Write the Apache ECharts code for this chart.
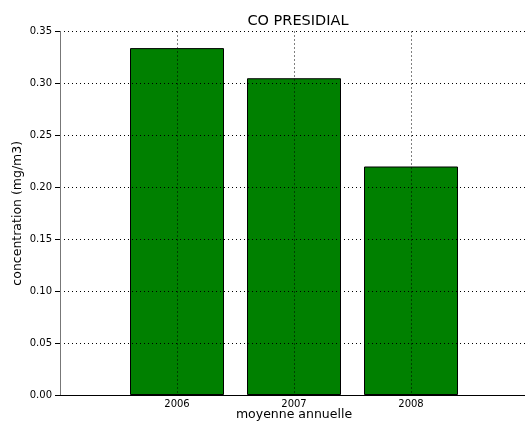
<!DOCTYPE html>
<html>
<head>
<meta charset="utf-8">
<script src="https://cdn.jsdelivr.net/npm/echarts@6/dist/echarts.min.js"></script>
<style>
  html, body { margin: 0; padding: 0; background: #fff; }
  #chart { width: 525px; height: 424px; }
</style>
</head>
<body>
<div id="chart"></div>
<script>
// Annual mean CO concentration per year
const years = [2006, 2007, 2008];
const concentrations = [0.334, 0.305, 0.220];
const yMin = 0, yMax = 0.35, yStep = 0.05;
const xMin = 2005, xMax = 2009;

const font = 'DejaVu Sans';
const chart = echarts.init(document.getElementById('chart'));

const dotted = { color: '#000', width: 1, type: [1, 3] };

chart.setOption({
  animation: false,
  backgroundColor: '#fff',
  title: {
    text: 'CO PRESIDIAL',
    left: 293, top: 9, textAlign: 'center',
    textStyle: { fontFamily: font, fontSize: 14.5, fontWeight: 'normal', color: '#000' }
  },
  grid: { left: 60, top: 31.5, width: 468, height: 363.5, outerBoundsMode: 'none', containLabel: false },
  xAxis: [{
    type: 'value', min: xMin, max: xMax, interval: 1, z: 5,
    name: 'moyenne annuelle', nameLocation: 'middle', nameGap: 13, nameMoveOverlap: false,
    nameTextStyle: { fontFamily: font, fontSize: 12.5, color: '#000' },
    axisLine: { show: true, onZero: false, lineStyle: { color: '#000', width: 1 } },
    axisTick: { show: false },
    axisLabel: {
      fontFamily: font, fontSize: 10, color: '#000', margin: 4,
      formatter: v => (years.indexOf(v) >= 0 ? String(v) : '')
    },
    splitLine: { show: true, lineStyle: dotted }
  }, {
    type: 'value', position: 'top', min: xMin, max: xMax, interval: 1,
    axisLine: { show: true, lineStyle: { color: '#000', width: 1 } },
    axisTick: { show: false }, axisLabel: { show: false }, splitLine: { show: false }
  }],
  yAxis: {
    type: 'value', min: yMin, max: yMax, interval: yStep, z: 5,
    name: 'concentration (mg/m3)', nameLocation: 'middle', nameGap: 36, nameMoveOverlap: false,
    nameTextStyle: { fontFamily: font, fontSize: 12.5, color: '#000' },
    axisLine: { show: true, lineStyle: { color: '#777', width: 1 } },
    axisTick: { show: true, length: 5, lineStyle: { color: '#000' } },
    axisLabel: { fontFamily: font, fontSize: 10, color: '#000', margin: 8,
      formatter: v => v.toFixed(2) },
    splitLine: { show: true, lineStyle: dotted }
  },
  series: [{
    type: 'bar',
    xAxisIndex: 0,
    barWidth: 94,
    data: years.map((y, i) => [y, concentrations[i]]),
    itemStyle: { color: '#008000', borderColor: '#000', borderWidth: 1 }
  }]
});
</script>
</body>
</html>
